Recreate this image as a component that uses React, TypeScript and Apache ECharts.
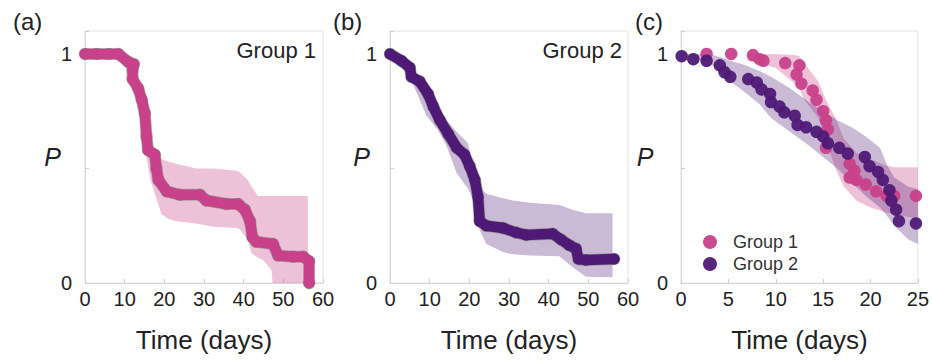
import React, { useEffect, useRef } from "react";
import * as echarts from "echarts";

// ---- data ----
const curveA: number[][] = [
  [0, 1], [3, 1], [6, 1], [8.4, 1], [10.9, 0.965], [12.3, 0.955], [12, 0.93], [12, 0.89],
  [13.4, 0.85], [14.3, 0.8], [15.1, 0.74], [15.5, 0.64], [15.9, 0.58], [17.6, 0.56], [18, 0.5],
  [18.5, 0.45], [20.6, 0.4], [23.9, 0.385], [29, 0.385], [30.6, 0.36], [35.7, 0.345], [38.6, 0.345],
  [40.3, 0.32], [41.6, 0.27], [42.2, 0.2], [43.2, 0.18], [47.4, 0.17], [48.7, 0.12], [52.5, 0.115],
  [55, 0.115], [56.5, 0.095], [56.5, 0.0],
];
const bandA: number[][] = [
  [0, 1, 1], [8, 0.98, 1], [11, 0.93, 0.99], [13, 0.8, 0.9], [15, 0.6, 0.78], [16.5, 0.45, 0.62],
  [17.6, 0.39, 0.57], [19.3, 0.3, 0.54], [21, 0.28, 0.53], [23, 0.27, 0.52], [28, 0.26, 0.5],
  [32.3, 0.245, 0.5], [38.2, 0.24, 0.49], [39, 0.235, 0.485], [41, 0.19, 0.45], [42, 0.13, 0.42],
  [43.6, 0.11, 0.38], [44.9, 0.1, 0.38], [47, 0.057, 0.38], [47.3, 0, 0.38], [56.2, 0, 0.38],
];
const curveB: number[][] = [
  [0, 1], [2.9, 0.97], [5, 0.94], [5.4, 0.9], [7.5, 0.88], [9.6, 0.825], [10.9, 0.77], [12.6, 0.71],
  [14.7, 0.65], [16.8, 0.59], [18.8, 0.56], [20.1, 0.51], [21.4, 0.45], [22.2, 0.375], [22.6, 0.27],
  [24.3, 0.25], [28.5, 0.24], [31.8, 0.22], [34.3, 0.21], [41, 0.215], [43.1, 0.19], [45.2, 0.165],
  [46.9, 0.15], [47.5, 0.105], [49.4, 0.1], [56.5, 0.105],
];
const bandB: number[][] = [
  [0, 1, 1], [3, 0.95, 0.99], [6, 0.86, 0.93], [9.2, 0.73, 0.86], [12, 0.67, 0.77], [14.2, 0.6, 0.71],
  [16.8, 0.48, 0.66], [19.7, 0.41, 0.61], [20.5, 0.38, 0.535], [21.8, 0.3, 0.46], [22.6, 0.23, 0.42],
  [24.3, 0.17, 0.39], [28.5, 0.135, 0.37], [31, 0.125, 0.36], [35.2, 0.12, 0.35], [42.7, 0.117, 0.34],
  [46, 0.07, 0.32], [49.4, 0.027, 0.305], [56.1, 0.025, 0.305],
];
const dotsC1: number[][] = [
  [2.7, 1], [5.3, 1], [7.6, 0.995], [8.3, 0.977], [8.7, 0.97], [11, 0.96], [12.5, 0.95], [12.2, 0.91],
  [12.7, 0.87], [13.9, 0.84], [14.3, 0.8], [15, 0.75], [15.3, 0.71], [15.5, 0.67], [15.3, 0.59],
  [17.8, 0.52], [18.3, 0.49], [17.8, 0.46], [18.5, 0.45], [19.5, 0.43], [20.6, 0.4], [21.7, 0.38],
  [22.5, 0.38], [24.8, 0.38],
];
const dotsC2: number[][] = [
  [0.07, 0.99], [1.3, 0.977], [2.7, 0.97], [4.1, 0.95], [4.6, 0.92], [5.2, 0.9], [7.1, 0.89],
  [8, 0.875], [8.5, 0.845], [9.4, 0.825], [9.5, 0.79], [10.4, 0.77], [10.9, 0.745], [12, 0.73],
  [12.3, 0.69], [13.2, 0.68], [14.3, 0.66], [15, 0.64], [15.5, 0.61], [16.7, 0.59], [17.6, 0.565],
  [19.4, 0.55], [19.9, 0.51], [20.8, 0.485], [21.3, 0.45], [22, 0.405], [22.2, 0.36], [22.7, 0.32],
  [23, 0.27], [24.8, 0.26],
];
const bandC1: number[][] = [
  [7, 0.97, 1], [10, 0.94, 1], [12, 0.87, 0.995], [12.5, 0.85, 0.99], [13, 0.8, 0.96], [14.5, 0.72, 0.88],
  [15.3, 0.62, 0.8], [16.3, 0.5, 0.72], [17.2, 0.42, 0.63], [18.5, 0.36, 0.57], [20, 0.33, 0.54],
  [21.5, 0.31, 0.515], [22.5, 0.3, 0.505], [25, 0.28, 0.505],
];
const bandC2: number[][] = [
  [0, 1, 1], [3, 0.96, 1], [4.2, 0.92, 0.985], [5.2, 0.88, 0.97], [6.5, 0.84, 0.955], [8.3, 0.78, 0.925],
  [9.5, 0.72, 0.9], [11.5, 0.66, 0.85], [13.5, 0.6, 0.79], [15, 0.55, 0.75], [16.5, 0.5, 0.71],
  [18, 0.44, 0.68], [19.5, 0.38, 0.64], [21, 0.33, 0.59], [21.8, 0.29, 0.51], [22.5, 0.25, 0.46],
  [24, 0.19, 0.42], [25, 0.17, 0.41],
];
const xTicksAB = { min: 0, max: 60, interval: 10 };
const xTicksC = { min: 0, max: 25, interval: 5 };
const yLabels = [0, 1];
const seriesNames = ["Group 1", "Group 2"];
const panelLabels = ["(a)", "(b)", "(c)"];

const PINK = "#c8418a";
const PURPLE = "#4e1a76";
const PINK_BAND = "rgba(200,65,138,0.32)";
const PURPLE_BAND = "rgba(78,26,118,0.3)";
const EDGE = "rgba(110,125,110,0.5)";
const FONT = "Liberation Sans, Arial, sans-serif";

function bandSeries(band: number[][], idx: number, color: string) {
  return {
    type: "custom",
    xAxisIndex: idx,
    yAxisIndex: idx,
    silent: true,
    z: 1,
    data: [[0, 0]],
    renderItem: (_p: any, api: any) => {
      const up = band.map((b) => api.coord([b[0], b[2]]));
      const lo = band.slice().reverse().map((b) => api.coord([b[0], b[1]]));
      return { type: "polygon", shape: { points: up.concat(lo) }, style: { fill: color } };
    },
  };
}

function curveSeries(data: number[][], idx: number, color: string, name: string) {
  return [
    {
      type: "line", name: name + " edge", xAxisIndex: idx, yAxisIndex: idx, data, silent: true, z: 2,
      lineStyle: { color: EDGE, width: 12, join: "round", cap: "round" },
      symbol: "circle", symbolSize: 12.5, showAllSymbol: true, itemStyle: { color: EDGE },
    },
    {
      type: "line", name: name + " curve", xAxisIndex: idx, yAxisIndex: idx, data, silent: true, z: 3,
      lineStyle: { color, width: 10.5, join: "round", cap: "round" },
      symbol: "circle", symbolSize: 11, showAllSymbol: true, itemStyle: { color },
    },
  ];
}

const axisCommon = {
  axisLine: { show: true, lineStyle: { color: "#d6d6d6", width: 1 } },
  axisTick: { show: true, inside: true, length: 4, lineStyle: { color: "#cfcfcf" } },
  splitLine: { show: false },
};

function xAxis(idx: number, t: { min: number; max: number; interval: number }) {
  return {
    type: "value", gridIndex: idx, ...t, ...axisCommon,
    axisLabel: { color: "#222", fontSize: 20, fontFamily: FONT, margin: 6 },
    name: "Time (days)", nameLocation: "middle", nameGap: 44,
    nameTextStyle: { color: "#222", fontSize: 26, fontFamily: FONT },
  };
}
function yAxis(idx: number) {
  return {
    type: "value", gridIndex: idx, min: 0, max: 1.1, interval: 0.5, ...axisCommon,
    axisLabel: {
      color: "#222", fontSize: 20, fontFamily: FONT, margin: 13,
      formatter: (v: number) => (yLabels.indexOf(v) >= 0 ? String(v) : ""),
    },
  };
}

export default function App() {
  const ref = useRef<HTMLDivElement>(null);
  useEffect(() => {
    document.body.style.margin = "0";
    const chart = echarts.init(ref.current!, null, { renderer: "svg" });
    const grid = (left: number, right: number) => ({
      left, right, top: 31, bottom: 77, show: true, borderColor: "#e2e2e2", borderWidth: 1,
      backgroundColor: "transparent", containLabel: false,
    });
    const textEl = (text: string, x: number, y: number, size: number, align: string, extra: any = {}) => ({
      type: "text", x, y, silent: true,
      style: { text, fill: "#222", fontSize: size, fontFamily: FONT, align, verticalAlign: "middle", ...extra },
    });
    chart.setOption({
      animation: false,
      grid: [grid(85, 932 - 323), grid(390, 932 - 628), grid(681, 932 - 918)],
      xAxis: [xAxis(0, xTicksAB), xAxis(1, xTicksAB), xAxis(2, xTicksC)],
      yAxis: [yAxis(0), yAxis(1), yAxis(2)],
      legend: {
        left: 698, top: 228, orient: "vertical", itemWidth: 14, itemHeight: 14, itemGap: 4,
        icon: "circle", data: seriesNames,
        textStyle: { color: "#333", fontSize: 18, fontFamily: FONT, padding: [0, 0, 0, 11] },
      },
      series: [
        bandSeries(bandA, 0, PINK_BAND),
        ...curveSeries(curveA, 0, PINK, seriesNames[0]),
        bandSeries(bandB, 1, PURPLE_BAND),
        ...curveSeries(curveB, 1, PURPLE, seriesNames[1]),
        bandSeries(bandC1, 2, PINK_BAND),
        bandSeries(bandC2, 2, PURPLE_BAND),
        {
          type: "scatter", name: seriesNames[0], xAxisIndex: 2, yAxisIndex: 2, data: dotsC1,
          symbolSize: 12.5, itemStyle: { color: PINK, opacity: 0.95 }, z: 3,
        },
        {
          type: "scatter", name: seriesNames[1], xAxisIndex: 2, yAxisIndex: 2, data: dotsC2,
          symbolSize: 12.5, itemStyle: { color: PURPLE, opacity: 0.95 }, z: 4,
        },
      ],
      graphic: [
        textEl(panelLabels[0], 13, 21, 24, "left"),
        textEl(panelLabels[1], 333, 21, 24, "left"),
        textEl(panelLabels[2], 635, 21, 24, "left"),
        textEl(seriesNames[0], 316, 50, 22, "right"),
        textEl(seriesNames[1], 622, 50, 22, "right"),
        textEl("P", 52.5, 157, 25, "center", { fontStyle: "italic" }),
        textEl("P", 361.5, 157, 25, "center", { fontStyle: "italic" }),
        textEl("P", 645, 157, 25, "center", { fontStyle: "italic" }),
      ],
    });
    return () => chart.dispose();
  }, []);
  return <div ref={ref} style={{ width: 932, height: 360 }} />;
}
